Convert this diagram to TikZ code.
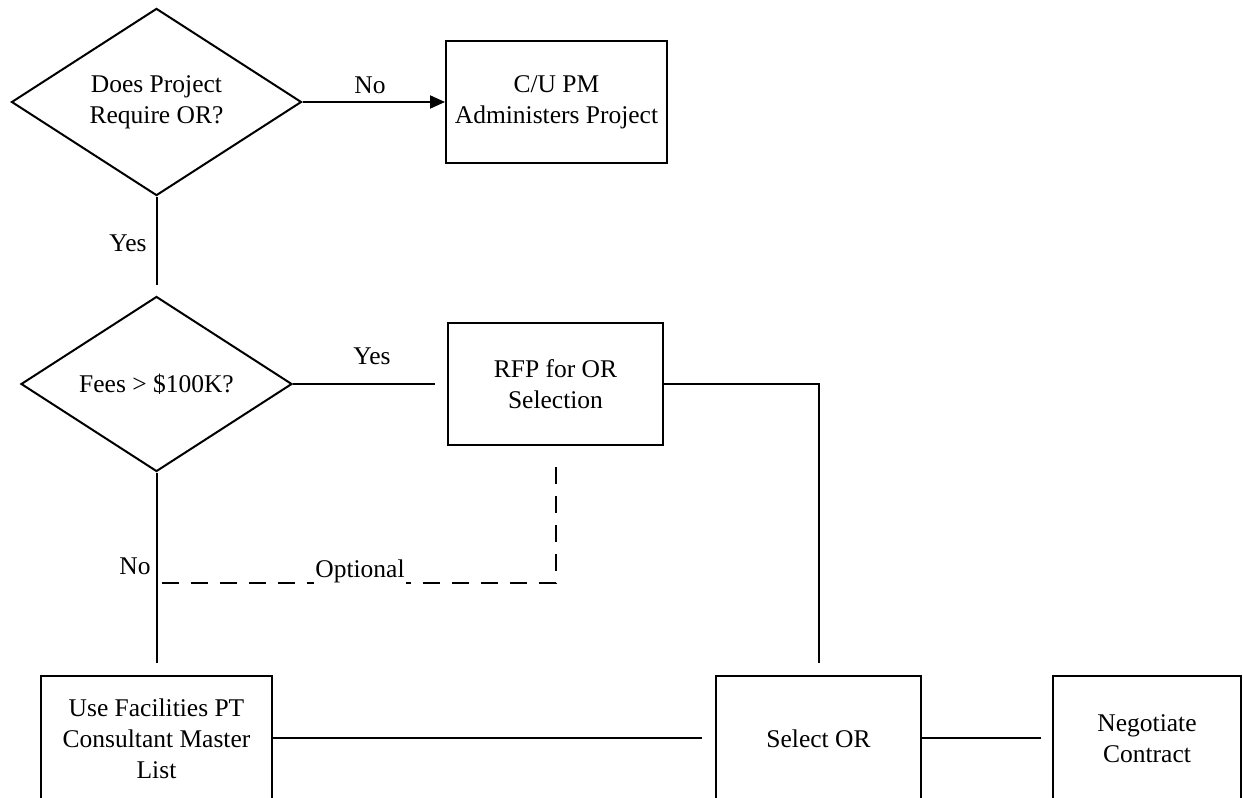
\documentclass[tikz,border=0pt]{standalone}
\usepackage{fontspec}
\setmainfont{Liberation Serif}
\usetikzlibrary{shapes.geometric,arrows.meta}
\begin{document}
\begin{tikzpicture}[x=1pt,y=-1pt,
  every node/.style={font=\fontsize{25.5}{31}\selectfont},
  conn/.style={line width=2pt},
  dashconn/.style={line width=2pt,dash pattern=on 17pt off 12pt},
  decision/.style={diamond,draw,line width=2pt,inner sep=0pt,align=center},
  procbox/.style={rectangle,draw,line width=2pt,inner sep=0pt,align=center},
  lbl/.style={inner sep=1pt}
]
\useasboundingbox (0,0) rectangle (1243,798);
% nodes
\node[decision,minimum width=290pt,minimum height=186pt] (d1) at (156.5,102) {Does Project\\Require OR?};
\node[procbox,minimum width=221pt,minimum height=122pt] (cu) at (556.5,102) {C/U PM\\Administers Project};
\node[decision,minimum width=271pt,minimum height=174pt] (d2) at (156.5,384) {Fees > \$100K?};
\node[procbox,minimum width=215pt,minimum height=122pt] (rfp) at (555.5,384) {RFP for OR\\Selection};
\node[procbox,minimum width=231pt,minimum height=127pt] (use) at (156.5,739) {Use Facilities PT\\Consultant Master\\List};
\node[procbox,minimum width=205pt,minimum height=127pt] (sel) at (818.5,739) {Select OR};
\node[procbox,minimum width=188pt,minimum height=127pt] (neg) at (1147,739) {Negotiate\\Contract};
% free ends
\coordinate (y1end) at (156.5,285);
\coordinate (y2end) at (435,384);
\coordinate (rfpcorner) at (818.5,384);
\coordinate (selin) at (818.5,663);
\coordinate (n2end) at (156.5,663);
\coordinate (dtop) at (556,467);
\coordinate (dcorner) at (556,583);
\coordinate (dend) at (156.5,583);
\coordinate (usend) at (702,738);
\coordinate (selend) at (1041,738);
% connectors
\draw[conn,-{Triangle[length=15pt,width=13pt]}] (d1.east) -- (cu.west);
\node[lbl] (lno1) at (370,85) {No};
\draw[conn] (d1.south) -- (y1end);
\node[lbl] (lyes1) at (128,243) {Yes};
\draw[conn] (d2.east) -- (y2end);
\node[lbl] (lyes2) at (372,356) {Yes};
\draw[conn] (rfp.east) -- (rfpcorner) -- (selin);
\draw[conn] (d2.south) -- (n2end);
\node[lbl] (lno2) at (135,566) {No};
\draw[dashconn] (dtop) -- (dcorner) -- (dend);
\node[lbl,fill=white] (lopt) at (360,571) {Optional};
\draw[conn] (use.east |- usend) -- (usend);
\draw[conn] (sel.east |- selend) -- (selend);
\end{tikzpicture}
\end{document}
